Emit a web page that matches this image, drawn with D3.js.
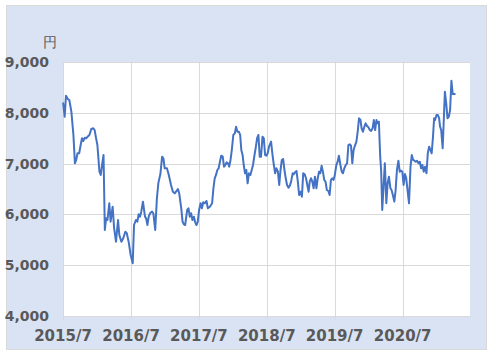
<!DOCTYPE html>
<html><head><meta charset="utf-8">
<script src="https://cdn.jsdelivr.net/npm/d3@7"></script>
<style>
body{margin:0;background:#ffffff;}
text{font-family:"DejaVu Sans",sans-serif;}
</style>
</head><body>
<svg id="chart" width="493" height="356"></svg>
<script>
const dates = [
"2015-07-02","2015-07-10","2015-07-17","2015-07-27","2015-08-04","2015-08-15","2015-08-26","2015-09-03","2015-09-10","2015-09-17",
"2015-09-26","2015-10-04","2015-10-11","2015-10-18","2015-10-26","2015-11-03","2015-11-10","2015-11-20","2015-11-30","2015-12-11",
"2015-12-18","2015-12-26","2016-01-02","2016-01-13","2016-01-20","2016-01-27","2016-02-04","2016-02-11","2016-02-18","2016-02-25",
"2016-03-06","2016-03-13","2016-03-24","2016-04-01","2016-04-11","2016-04-22","2016-04-29","2016-05-10","2016-05-20","2016-05-31",
"2016-06-08","2016-06-18","2016-06-29","2016-07-10","2016-07-17","2016-07-27","2016-08-04","2016-08-11","2016-08-18","2016-08-25",
"2016-09-03","2016-09-14","2016-09-20","2016-09-27","2016-10-04","2016-10-11","2016-10-22","2016-10-29","2016-11-08","2016-11-17",
"2016-11-25","2016-12-06","2016-12-15","2016-12-22","2016-12-29","2017-01-10","2017-01-20","2017-02-01","2017-02-11","2017-02-21",
"2017-03-03","2017-03-10","2017-03-17","2017-03-28","2017-04-04","2017-04-11","2017-04-18","2017-04-29","2017-05-06","2017-05-13",
"2017-05-20","2017-05-27","2017-06-04","2017-06-11","2017-06-18","2017-06-25","2017-07-02","2017-07-10","2017-07-17","2017-07-24",
"2017-08-01","2017-08-11","2017-08-18","2017-08-29","2017-09-10","2017-09-17","2017-09-24","2017-10-01","2017-10-08","2017-10-15",
"2017-10-22","2017-10-29","2017-11-06","2017-11-13","2017-11-20","2017-11-27","2017-12-04","2017-12-11","2017-12-18","2017-12-25",
"2018-01-02","2018-01-10","2018-01-17","2018-01-24","2018-02-01","2018-02-08","2018-02-14","2018-02-21","2018-02-27","2018-03-06",
"2018-03-13","2018-03-20","2018-03-27","2018-04-04","2018-04-11","2018-04-18","2018-04-26","2018-05-02","2018-05-10","2018-05-17",
"2018-05-24","2018-05-31","2018-06-08","2018-06-15","2018-06-22","2018-06-29","2018-07-06","2018-07-13","2018-07-24","2018-08-01",
"2018-08-08","2018-08-15","2018-08-22","2018-08-30","2018-09-06","2018-09-13","2018-09-20","2018-09-27","2018-10-04","2018-10-11",
"2018-10-18","2018-10-26","2018-11-02","2018-11-09","2018-11-17","2018-11-23","2018-11-30","2018-12-08","2018-12-15","2018-12-22",
"2018-12-30","2019-01-06","2019-01-13","2019-01-21","2019-01-28","2019-02-04","2019-02-11","2019-02-17","2019-02-24","2019-03-03",
"2019-03-10","2019-03-17","2019-03-25","2019-04-01","2019-04-08","2019-04-15","2019-04-22","2019-04-29","2019-05-06","2019-05-13",
"2019-05-20","2019-05-28","2019-06-04","2019-06-11","2019-06-18","2019-06-25","2019-07-02","2019-07-10","2019-07-17","2019-07-24",
"2019-08-01","2019-08-08","2019-08-15","2019-08-22","2019-08-30","2019-09-06","2019-09-13","2019-09-20","2019-09-27","2019-10-04",
"2019-10-11","2019-10-18","2019-10-26","2019-11-02","2019-11-09","2019-11-17","2019-11-23","2019-11-30","2019-12-08","2019-12-15",
"2019-12-22","2019-12-30","2020-01-06","2020-01-13","2020-01-21","2020-01-28","2020-02-04","2020-02-11","2020-02-18","2020-02-24",
"2020-03-02","2020-03-07","2020-03-13","2020-03-20","2020-03-27","2020-04-04","2020-04-11","2020-04-18","2020-04-26","2020-05-02",
"2020-05-09","2020-05-17","2020-05-24","2020-05-31","2020-06-08","2020-06-15","2020-06-22","2020-06-29","2020-07-06","2020-07-13",
"2020-07-20","2020-07-28","2020-08-04","2020-08-12","2020-08-19","2020-08-26","2020-09-02","2020-09-09","2020-09-16","2020-09-24",
"2020-10-01","2020-10-08","2020-10-15","2020-10-22","2020-10-29","2020-11-06","2020-11-13","2020-11-20","2020-11-27","2020-12-04",
"2020-12-11","2020-12-17","2020-12-22","2020-12-30","2021-01-06","2021-01-13","2021-01-18","2021-01-24","2021-02-01","2021-02-07",
"2021-02-13","2021-02-20","2021-02-27","2021-03-06","2021-03-13","2021-03-20","2021-03-27","2021-04-07"
];
const prices = [
8187,7923,8337,8272,8252,8022,7563,7006,7071,7203,
7203,7366,7498,7445,7510,7498,7530,7563,7681,7695,
7661,7498,7366,6840,6776,6972,7169,5693,5923,5890,
6219,5857,6152,5726,5463,5890,5595,5463,5530,5660,
5628,5463,5201,5040,5791,5890,5857,6002,5955,6054,
6251,5955,5923,5791,5955,6022,6054,6022,5693,6317,
6620,6800,7136,7104,6907,6907,6776,6579,6447,6415,
6461,6500,6415,6120,5857,5805,5791,6087,6120,5955,
6022,5890,5955,5844,5791,5857,6087,6219,6120,6238,
6219,6264,6120,6152,6219,6514,6711,6776,6874,6907,
7037,7156,7136,6940,6972,7025,7006,6940,7071,7268,
7563,7596,7727,7628,7628,7563,7268,7169,6972,6809,
6874,6612,6809,6776,6874,6972,7169,7300,7500,7563,
7136,7136,7530,7498,7169,7156,7203,7333,7432,7169,
6972,6809,6907,6841,6579,6874,7071,7091,6874,6711,
6579,6526,6566,6644,6809,6789,6828,6854,6644,6382,
6447,6349,6809,6789,6711,6579,6447,6644,6711,6644,
6514,6743,6514,6711,6841,6809,6959,6841,6677,6644,
6480,6461,6382,6677,6711,6677,6776,6972,7037,7156,
6972,6841,6809,6907,6972,7006,7366,7380,7353,7006,
7268,7350,7432,7628,7892,7858,7695,7628,7727,7793,
7740,7714,7661,7642,7695,7858,7661,7858,7793,7825,
7136,6874,6087,6546,7006,6219,6612,6743,6514,6480,
6382,6251,6480,6874,7057,6841,6861,6841,6579,6796,
6711,6447,6219,6940,7169,7071,7057,7037,7057,7006,
7037,6907,6972,6841,6940,6809,7203,7333,7268,7203,
7530,7892,7858,7957,7957,7892,7727,7661,7301,7858,
8416,8187,7892,7923,8055,8632,8370,8370
];
const yTicks = [4000,5000,6000,7000,8000,9000];
const xTickDates = ["2015-07-01","2016-07-01","2017-07-01","2018-07-01","2019-07-01","2020-07-01"];
const xTickLabels = ["2015/7","2016/7","2017/7","2018/7","2019/7","2020/7"];
const xDomain = ["2015-07-01","2021-06-28"];
const unitLabel = "円";

const parse = d3.timeParse("%Y-%m-%d");
const data = dates.map((d,i)=>({date:parse(d), value:prices[i]}));

const svg = d3.select("#chart");
const L=63, R=470, T=62, B=316;
const x = d3.scaleTime().domain(xDomain.map(parse)).range([L,R]);
const y = d3.scaleLinear().domain([4000,9000]).range([B,T]);
const textColor = "#595959", gridColor = "#D9D9D9";

// outer chart area
svg.append("rect").attr("x",6.5).attr("y",5.5).attr("width",480).attr("height",344)
  .attr("fill","#DAE3F3").attr("stroke","#D9D9D9").attr("stroke-width",1);
// plot area
svg.append("rect").attr("x",L).attr("y",T).attr("width",R-L).attr("height",B-T).attr("fill","#ffffff");

const crisp = v => Math.round(v)+0.5;

// horizontal gridlines
svg.append("g").selectAll("line").data(yTicks).join("line")
  .attr("x1",L).attr("x2",R)
  .attr("y1",d=>crisp(y(d))).attr("y2",d=>crisp(y(d)))
  .attr("stroke",gridColor).attr("stroke-width",1);

// vertical gridlines + tick marks
svg.append("g").selectAll("line").data(xTickDates).join("line")
  .attr("x1",d=>crisp(x(parse(d)))).attr("x2",d=>crisp(x(parse(d))))
  .attr("y1",T).attr("y2",B+4)
  .attr("stroke",gridColor).attr("stroke-width",1);

// y labels
svg.append("g").selectAll("text").data(yTicks).join("text")
  .attr("x",49).attr("y",d=>y(d))
  .attr("dy","0.36em")
  .attr("text-anchor","end")
  .attr("fill",textColor).attr("font-size",14).attr("font-weight","bold")
  .attr("font-family","'Liberation Sans',Arial,sans-serif")
  .text(d=>d3.format(",")(d));

// x labels
svg.append("g").selectAll("text").data(xTickDates).join("text")
  .attr("x",d=>x(parse(d))).attr("y",341)
  .attr("text-anchor","middle")
  .attr("fill",textColor).attr("font-size",15).attr("font-weight","bold")
  .attr("font-family","'Liberation Sans',Arial,sans-serif")
  .text((d,i)=>xTickLabels[i]);

// unit label
svg.append("text").attr("x",49.5).attr("y",47).attr("text-anchor","middle")
  .attr("fill",textColor).attr("font-size",14)
  .attr("font-family","'Noto Sans CJK JP',sans-serif")
  .text(unitLabel);

// line
const line = d3.line().x(d=>x(d.date)).y(d=>y(d.value));
svg.append("path").datum(data).attr("d",line)
  .attr("fill","none").attr("stroke","#4472C4").attr("stroke-width",2)
  .attr("stroke-linejoin","round").attr("stroke-linecap","round");
</script>
</body></html>
